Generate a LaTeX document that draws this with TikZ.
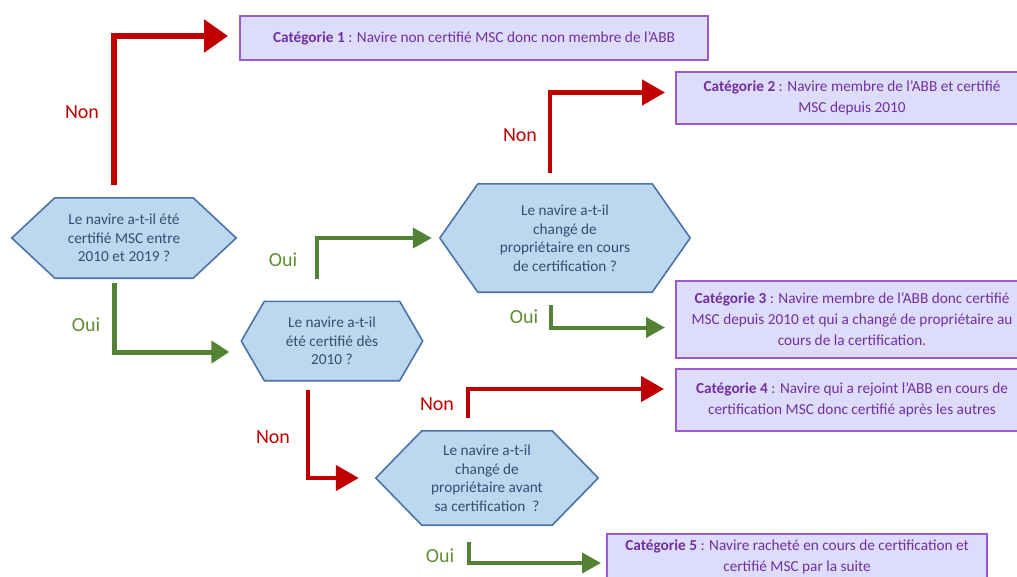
\documentclass[tikz,border=0pt]{standalone}
\usepackage{fontspec}
\setmainfont{Carlito}
\usetikzlibrary{arrows.meta,backgrounds}
\definecolor{arrred}{HTML}{C00000}
\definecolor{arrgreen}{HTML}{548235}
\definecolor{lblgreenc}{HTML}{5E8C31}
\definecolor{hexfill}{HTML}{BDD7EE}
\definecolor{hexborder}{HTML}{4A74A8}
\definecolor{hextextc}{HTML}{2F4F75}
\definecolor{catfill}{HTML}{DDDDFB}
\definecolor{catborder}{HTML}{9B59D0}
\definecolor{cattext}{HTML}{7030A0}
\tikzset{
  hexbox/.style={inner sep=0pt, align=center, text=hextextc, font=\fontsize{15.3}{18.5}\selectfont},
  hexline/.style={draw=hexborder, fill=hexfill, line width=1.6pt, line join=round},
  catbox/.style={draw=catborder, fill=catfill, line width=2pt, inner sep=0pt, align=center, text=cattext, font=\fontsize{15.3}{21}\selectfont},
  lblred/.style={text=arrred, font=\fontsize{20}{22}\selectfont},
  lblgreen/.style={text=lblgreenc, font=\fontsize{20}{22}\selectfont},
  redarrow/.style={draw=arrred, line width=4.5pt, -{Triangle[length=23pt,width=25pt]}},
  greenarrow/.style={draw=arrgreen, line width=4pt, -{Triangle[length=19pt,width=20pt]}},
}
\newcommand\hexshape[2]{%
  \path[hexline] (#1.west) -- ([xshift=#2]#1.north west) -- ([xshift=-#2]#1.north east) -- (#1.east) -- ([xshift=-#2]#1.south east) -- ([xshift=#2]#1.south west) -- cycle;}
\begin{document}
\begin{tikzpicture}[x=1pt,y=-1pt]
\useasboundingbox (0,0) rectangle (1017,576);
\begin{scope}
\clip (0,0) rectangle (1017,576);
% decision hexagons
\node[hexbox, minimum width=224pt, minimum height=80pt] (h1) at (124,238) {Le navire a-t-il été\\certifié MSC entre\\2010 et 2019 ?};
\node[hexbox, minimum width=181pt, minimum height=79pt] (h2) at (332,341) {Le navire a-t-il\\été certifié dès\\2010 ?};
\node[hexbox, minimum width=250pt, minimum height=108pt] (h3) at (565,238) {Le navire a-t-il\\changé de\\propriétaire en cours\\de certification ?};
\node[hexbox, minimum width=222pt, minimum height=94pt] (h4) at (487,478) {Le navire a-t-il\\changé de\\propriétaire avant\\sa certification~~?};
\begin{scope}[on background layer]
\hexshape{h1}{43pt}
\hexshape{h2}{23pt}
\hexshape{h3}{38pt}
\hexshape{h4}{46pt}
\end{scope}
% category boxes
\node[catbox, minimum width=468pt, minimum height=44pt] (c1) at (474,38) {\textbf{Catégorie 1} : Navire non certifié MSC donc non membre de l’ABB};
\node[catbox, minimum width=352pt, minimum height=52pt] (c2) at (852,97.5) {\textbf{Catégorie 2} : Navire membre de l’ABB et certifié\\MSC depuis 2010};
\node[catbox, minimum width=352pt, minimum height=77pt] (c3) at (852,319.5) {\textbf{Catégorie 3} : Navire membre de l’ABB donc certifié\\MSC depuis 2010 et qui a changé de propriétaire au\\cours de la certification.};
\node[catbox, minimum width=352pt, minimum height=62pt] (c4) at (852,400) {\textbf{Catégorie 4} : Navire qui a rejoint l’ABB en cours de\\certification MSC donc certifié après les autres};
\node[catbox, minimum width=380pt, minimum height=46pt] (c5) at (797,557) {\textbf{Catégorie 5} : Navire racheté en cours de certification et\\certifié MSC par la suite};
% connectors
\draw[redarrow, line width=5.5pt, -{Triangle[length=24pt,width=32pt]}, shorten <=13pt, shorten >=11pt] ([xshift=-10pt]h1.north) |- ([yshift=2pt]c1.west);
\draw[greenarrow, line width=5pt, -{Triangle[length=18pt,width=22pt]}, shorten <=5pt, shorten >=12pt] ([xshift=-10pt]h1.south) |- ([yshift=-11pt]h2.west);
\draw[greenarrow, shorten <=22pt, shorten >=8pt] ([xshift=-15pt]h2.north) |- (h3.west);
\draw[redarrow, shorten <=11pt, shorten >=10pt] ([xshift=-15pt]h3.north) |- ([yshift=5pt]c2.west);
\draw[greenarrow, shorten <=13pt, shorten >=10pt] ([xshift=-14pt]h3.south) |- ([yshift=-8pt]c3.west);
\draw[redarrow, shorten <=9pt, shorten >=17pt] ([xshift=-24pt]h2.south) |- (h4.west);
\draw[redarrow, shorten <=13pt, shorten >=11pt] ([xshift=-19pt]h4.north) |- ([yshift=11pt]c4.west);
\draw[greenarrow, shorten <=17pt, shorten >=5pt] ([xshift=-18pt]h4.south) |- ([yshift=-6pt]c5.west);
% labels
\node[lblred] (n1) at (82,112) {Non};
\node[lblgreen] (o1) at (86,325) {Oui};
\node[lblgreen] (o2) at (283,260) {Oui};
\node[lblred] (n2) at (520,135) {Non};
\node[lblgreen] (o3) at (524,317) {Oui};
\node[lblred] (n3) at (273,437) {Non};
\node[lblred] (n4) at (437,404) {Non};
\node[lblgreen] (o4) at (440,556) {Oui};
\end{scope}
\end{tikzpicture}
\end{document}
